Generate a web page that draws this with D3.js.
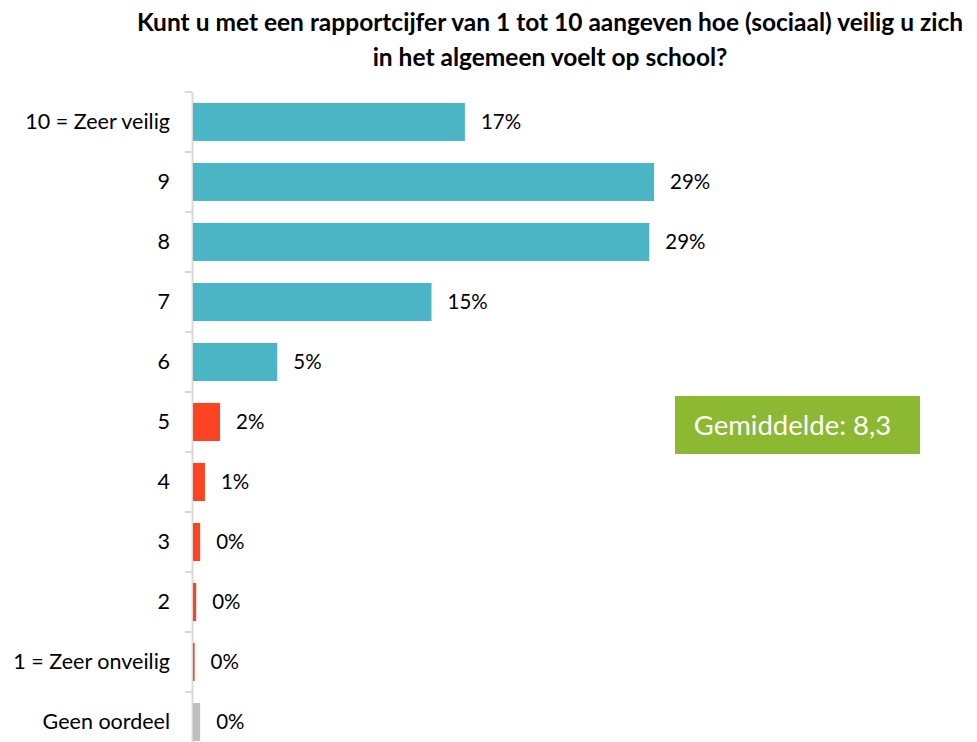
<!DOCTYPE html>
<html>
<head>
<meta charset="utf-8">
<script src="https://cdn.jsdelivr.net/npm/d3@7"></script>
<style>
  html, body { margin: 0; padding: 0; background: #fff; }
  svg { display: block; }
  text { font-family: Lato, "Open Sans", sans-serif; }
</style>
</head>
<body>
<svg id="chart" width="977" height="742"></svg>
<script>
const categories = ["10 = Zeer veilig", "9", "8", "7", "6", "5", "4", "3", "2", "1 = Zeer onveilig", "Geen oordeel"];
const values = [17.1, 29.0, 28.7, 15.0, 5.3, 1.7, 0.75, 0.45, 0.2, 0.1, 0.45];
const groups = ["safe", "safe", "safe", "safe", "safe", "unsafe", "unsafe", "unsafe", "unsafe", "unsafe", "none"];
const titleLines = ["Kunt u met een rapportcijfer van 1 tot 10 aangeven hoe (sociaal) veilig u zich", "in het algemeen voelt op school?"];
const averageLabel = "Gemiddelde: 8,3";

const colors = { safe: "#4bb5c6", unsafe: "#fc4422", none: "#bfbfbf" };
const data = categories.map((c, i) => ({ cat: c, value: values[i], group: groups[i] }));

const svg = d3.select("#chart");
const x0 = 192;
const x = d3.scaleLinear().domain([0, 30]).range([x0, x0 + 30 * 15.9]);
const y = d3.scaleBand().domain(categories).range([92, 752]).paddingInner(0.367).paddingOuter(0.183);

// title
svg.append("text")
  .attr("x", 550).attr("y", 31)
  .attr("text-anchor", "middle")
  .style("font-size", "24.5px").style("font-weight", "bold").attr("fill", "#000")
  .selectAll("tspan").data(titleLines).join("tspan")
  .attr("x", 550).attr("dy", (d, i) => i === 0 ? 0 : 35)
  .text(d => d);

// axis
const axis = d3.axisLeft(y).tickSize(0).tickPadding(22);
const gAxis = svg.append("g").attr("transform", `translate(${x0},0)`).call(axis);
gAxis.select(".domain").attr("stroke", "#d9d9d9").attr("stroke-width", 2);
gAxis.selectAll(".tick text").style("font-size", "21.5px").attr("fill", "#000").style("font-family", "Lato, 'Open Sans', sans-serif");

// boundary ticks
const bounds = categories.map(c => y(c) - y.step() * y.paddingInner() / 2);
svg.append("g").selectAll("line").data(bounds).join("line")
  .attr("x1", x0 - 7).attr("x2", x0)
  .attr("y1", d => d).attr("y2", d => d)
  .attr("stroke", "#d9d9d9").attr("stroke-width", 2);

// bars
svg.append("g").selectAll("rect").data(data).join("rect")
  .attr("x", x(0) + 1)
  .attr("y", d => y(d.cat))
  .attr("width", d => Math.max(0, x(d.value) - x(0)))
  .attr("height", y.bandwidth())
  .attr("fill", d => colors[d.group]);

// value labels
const fmt = v => d3.format(".0f")(v) + "%";
svg.append("g").selectAll("text").data(data).join("text")
  .attr("x", d => x(d.value) + 17)
  .attr("y", d => y(d.cat) + y.bandwidth() / 2)
  .attr("dy", "0.35em")
  .style("font-size", "20.5px").attr("fill", "#000")
  .text(d => fmt(d.value));

// average box
const box = svg.append("g");
box.append("rect").attr("x", 675).attr("y", 396).attr("width", 245).attr("height", 58).attr("fill", "#8db832");
box.append("text").attr("x", 792.5).attr("y", 425).attr("dy", "0.35em")
  .attr("text-anchor", "middle").attr("fill", "#fff")
  .style("font-size", "27.5px").text(averageLabel);
</script>
</body>
</html>
